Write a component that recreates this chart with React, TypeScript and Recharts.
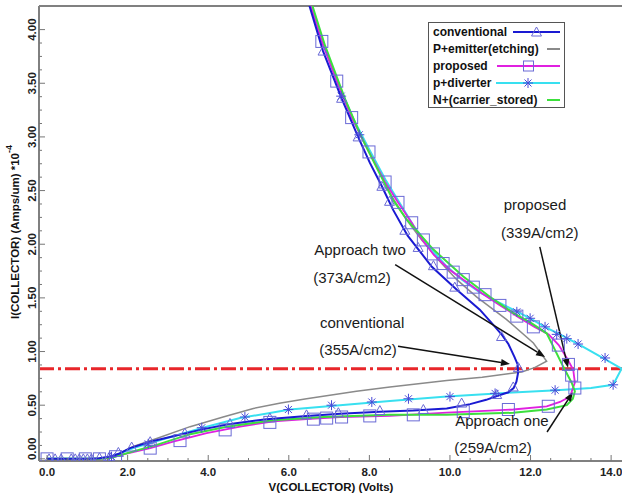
import React from "react";
import { ComposedChart, Line, Scatter, XAxis, YAxis, ReferenceLine, ReferenceDot } from "recharts";

type Pt = { v: number; i: number };
const pts = (a: number[][]): Pt[] => a.map(([v, i]) => ({ v, i }));

// each curve: from the origin along the blocking branch, around the snapback, then up the on-state branch
const conventional = pts([
  [0, 0], [1.0, 0], [1.3, 0.005], [1.6, 0.025], [1.8, 0.05], [2.06, 0.1], [2.56, 0.16], [3.13, 0.21],
  [3.8, 0.27], [4.46, 0.32], [5.45, 0.37], [6.44, 0.4], [7.27, 0.42], [8.26, 0.44], [9.09, 0.45],
  [9.92, 0.47], [10.5, 0.51], [10.9, 0.55], [11.2, 0.59], [11.45, 0.62], [11.58, 0.66], [11.65, 0.72],
  [11.69, 0.8], [11.68, 0.88], [11.6, 0.95], [11.45, 1.07], [11.3, 1.15], [11.12, 1.23], [10.74, 1.39],
  [10.17, 1.575], [9.55, 1.79], [8.95, 2.08], [8.59, 2.32], [8.31, 2.54], [8.01, 2.76], [7.72, 3.0],
  [7.31, 3.36], [6.85, 3.8], [6.45, 4.3],
]);

const pEmitter = pts([
  [0, 0], [1.2, 0], [1.48, 0.01], [1.8, 0.05], [2.14, 0.115], [2.72, 0.19], [3.55, 0.3], [4.37, 0.39],
  [5.12, 0.47], [5.8, 0.52], [6.44, 0.56], [7.68, 0.63], [8.51, 0.67], [9.92, 0.73], [10.8, 0.76],
  [11.78, 0.81], [12.1, 0.85], [12.4, 0.91], [12.07, 1.08], [11.4, 1.3], [10.66, 1.51], [10.17, 1.67],
  [9.75, 1.84], [9.3, 2.04], [8.9, 2.24], [8.55, 2.45], [8.1, 2.78], [7.6, 3.17], [7.2, 3.52],
  [6.84, 3.89], [6.48, 4.3],
]);

const proposed = pts([
  [0, 0], [1.2, 0], [1.48, 0.005], [2.0, 0.05], [2.56, 0.1], [3.13, 0.16], [3.96, 0.24], [4.79, 0.3],
  [5.62, 0.35], [6.44, 0.37], [7.27, 0.39], [8.51, 0.4], [9.92, 0.43], [11.0, 0.45], [11.57, 0.46],
  [12.4, 0.49], [12.73, 0.53], [12.98, 0.58], [13.1, 0.71], [13.06, 0.83], [12.9, 0.94], [12.7, 1.06],
  [12.45, 1.16], [12.1, 1.23], [11.7, 1.32], [11.2, 1.44], [10.8, 1.54], [10.4, 1.65], [10.0, 1.76],
  [9.6, 1.9], [9.3, 2.05], [9.05, 2.2], [8.71, 2.39], [8.39, 2.58], [7.99, 2.86], [7.56, 3.18],
  [7.19, 3.52], [6.82, 3.89], [6.48, 4.3],
]);

const diverter = pts([
  [0, 0], [1.3, 0], [1.6, 0.02], [2.14, 0.1], [3.13, 0.21], [3.96, 0.3], [4.79, 0.38], [6.03, 0.46],
  [7.27, 0.5], [8.51, 0.54], [9.92, 0.58], [11.16, 0.61], [12.65, 0.64], [13.5, 0.66], [14.05, 0.69],
  [14.26, 0.84], [13.89, 0.92], [13.23, 1.06], [12.73, 1.16], [12.4, 1.22], [11.99, 1.31], [11.57, 1.39],
  [11.2, 1.46], [10.74, 1.55], [10.3, 1.67], [9.9, 1.8], [9.5, 1.97], [9.1, 2.17], [8.76, 2.38],
  [8.4, 2.6], [8.0, 2.88], [7.6, 3.17], [7.2, 3.52], [6.84, 3.89], [6.5, 4.3],
]);

const carrierStored = pts([
  [0, 0], [1.3, 0], [1.6, 0.01], [2.14, 0.07], [2.72, 0.13], [3.55, 0.23], [4.46, 0.3], [5.62, 0.36],
  [6.86, 0.39], [8.51, 0.41], [9.92, 0.41], [11.57, 0.43], [12.4, 0.46], [12.9, 0.5], [13.05, 0.56],
  [13.1, 0.63], [13.02, 0.71], [12.77, 0.89], [12.56, 1.05], [12.4, 1.17], [12.0, 1.27], [11.57, 1.36],
  [10.99, 1.51], [10.33, 1.7], [9.59, 1.95], [8.93, 2.23], [8.59, 2.41], [8.2, 2.7], [7.8, 3.0],
  [7.4, 3.35], [6.9, 3.85], [6.52, 4.3],
]);

// marker positions (sparser than the curve samples)
const convMarks = pts([
  [0.05, 0], [0.2, 0], [0.35, 0], [0.6, 0], [0.7, 0], [0.8, 0], [0.9, 0], [1.0, 0], [1.1, 0], [1.3, 0.01],
  [1.55, 0.02], [1.77, 0.06], [2.1, 0.11], [2.56, 0.16], [3.42, 0.24], [4.54, 0.33], [5.53, 0.38],
  [6.44, 0.41], [7.23, 0.43], [8.26, 0.45], [9.34, 0.46], [10.29, 0.52], [11.16, 0.6], [11.57, 0.67],
  [11.7, 0.85], [11.28, 1.14], [10.12, 1.6], [9.59, 1.8], [9.21, 1.97], [8.88, 2.13], [8.5, 2.4],
  [8.31, 2.54], [7.72, 3.0], [7.31, 3.36], [6.85, 3.8],
]);

const propMarks = pts([
  [0.0, 0], [0.5, 0], [0.95, 0], [1.3, 0], [1.7, 0.02], [2.56, 0.1], [3.3, 0.17], [4.42, 0.27],
  [5.53, 0.34], [6.61, 0.37], [6.94, 0.38], [7.31, 0.39], [8.01, 0.4], [9.09, 0.41], [10.33, 0.44],
  [11.45, 0.46], [12.44, 0.49], [13.1, 0.66], [13.02, 0.78], [12.94, 0.88], [12.69, 1.06], [12.07, 1.23],
  [11.66, 1.33], [11.24, 1.43], [10.87, 1.53], [10.58, 1.6], [10.33, 1.67], [10.08, 1.74], [9.83, 1.82],
  [9.59, 1.91], [9.34, 2.04], [9.05, 2.2], [8.71, 2.39], [8.39, 2.58], [7.99, 2.86], [7.56, 3.18],
  [7.19, 3.52], [6.82, 3.89],
]);

const divMarks = pts([
  [1.6, 0.02], [2.51, 0.14], [3.84, 0.29], [4.91, 0.39], [5.99, 0.46], [7.06, 0.5], [8.06, 0.53],
  [8.97, 0.56], [10.0, 0.58], [11.12, 0.61], [12.61, 0.64], [14.05, 0.69], [13.85, 0.94], [13.18, 1.07],
  [12.9, 1.12], [12.65, 1.16], [12.36, 1.23], [11.99, 1.31], [11.66, 1.37], [7.75, 3.02], [7.3, 3.38],
]);

const xTicks = Array.from({ length: 29 }, (_, k) => k * 0.5);
const yTicks = Array.from({ length: 33 }, (_, k) => k * 0.125);
const xDomain = [-0.2, 14.27];
const yDomain = [-0.02, 4.22];
const threshold = 0.84;

const annotations = [
  { v: 12.11, i: 2.37, text: "proposed" },
  { v: 12.23, i: 2.11, text: "(339A/cm2)" },
  { v: 7.77, i: 1.95, text: "Approach two" },
  { v: 7.57, i: 1.69, text: "(373A/cm2)" },
  { v: 7.82, i: 1.27, text: "conventional" },
  { v: 7.72, i: 1.02, text: "(355A/cm2)" },
  { v: 11.29, i: 0.36, text: "Approach one" },
  { v: 11.07, i: 0.11, text: "(259A/cm2)" },
];

const arrows = [
  [{ x: 8.71, y: 1.05 }, { x: 11.49, y: 0.885 }],
  [{ x: 8.64, y: 1.81 }, { x: 12.36, y: 0.95 }],
  [{ x: 12.23, y: 1.975 }, { x: 12.93, y: 0.85 }],
  [{ x: 12.41, y: 0.25 }, { x: 13.05, y: 0.62 }],
];

const FONT = "'Liberation Sans', Arial, sans-serif";
const MARK = "#6a6ad6";

const legendItems = [
  { name: "conventional", color: "#1a1ad2", marker: "tri", w: 47 },
  { name: "P+emitter(etching)", color: "#8a8a8a", marker: "", w: 13 },
  { name: "proposed", color: "#e020e0", marker: "sq", w: 63 },
  { name: "p+diverter", color: "#38e0f0", marker: "star", w: 64 },
  { name: "N+(carrier_stored)", color: "#3ce03c", marker: "", w: 13 },
];

function Tri({ cx, cy }: any) {
  return <polygon points={`${cx},${cy - 5} ${cx - 5},${cy + 4} ${cx + 5},${cy + 4}`} fill="none" stroke={MARK} strokeWidth={1} />;
}
function Sq({ cx, cy }: any) {
  return <rect x={cx - 6} y={cy - 6} width={12} height={12} fill="none" stroke={MARK} strokeWidth={1} />;
}
function Star({ cx, cy }: any) {
  const r = 5;
  return (
    <g stroke="#4a4ad8" strokeWidth={1}>
      <line x1={cx - r} y1={cy} x2={cx + r} y2={cy} />
      <line x1={cx} y1={cy - r} x2={cx} y2={cy + r} />
      <line x1={cx - 3.5} y1={cy - 3.5} x2={cx + 3.5} y2={cy + 3.5} />
      <line x1={cx - 3.5} y1={cy + 3.5} x2={cx + 3.5} y2={cy - 3.5} />
    </g>
  );
}

function XTick({ x, y, payload }: any) {
  const v = payload.value;
  const major = Math.abs(v / 2 - Math.round(v / 2)) < 1e-6;
  return (
    <g>
      <line x1={x} y1={y} x2={x} y2={y - (major ? 6 : 3)} stroke="#777" />
      {major && (
        <text x={x} y={y + 15} textAnchor="middle" fontFamily={FONT} fontWeight="bold" fontSize={11.5} fill="#222">
          {v.toFixed(1)}
        </text>
      )}
    </g>
  );
}

function YTick({ x, y, payload }: any) {
  const v = payload.value;
  const major = Math.abs(v * 2 - Math.round(v * 2)) < 1e-6;
  // the bottom label is kept inside the axis span, as in the original
  const ly = v === 0 ? y - 10 : y;
  return (
    <g>
      <line x1={x} y1={y} x2={x + (major ? 6 : 3)} y2={y} stroke="#777" />
      {major && (
        <text x={x - 7} y={ly} transform={`rotate(-90, ${x - 7}, ${ly})`} textAnchor="middle" dominantBaseline="central"
          fontFamily={FONT} fontWeight="bold" fontSize={11.5} fill="#222">
          {v.toFixed(2)}
        </text>
      )}
    </g>
  );
}

function Arrow({ x1, y1, x2, y2 }: any) {
  const a = Math.atan2(y2 - y1, x2 - x1);
  const L = 9, W = 3.5;
  const bx = x2 - L * Math.cos(a), by = y2 - L * Math.sin(a);
  const p1 = `${bx - W * Math.sin(a)},${by + W * Math.cos(a)}`;
  const p2 = `${bx + W * Math.sin(a)},${by - W * Math.cos(a)}`;
  return (
    <g>
      <line x1={x1} y1={y1} x2={bx} y2={by} stroke="#111" strokeWidth={1.5} />
      <polygon points={`${x2},${y2} ${p1} ${p2}`} fill="#111" />
    </g>
  );
}

function Legend() {
  return (
    <div style={{ position: "absolute", left: 428, top: 22, width: 135, height: 84, border: "1px solid #555",
      background: "#fff", fontFamily: FONT, fontWeight: "bold", fontSize: 12, color: "#111" }}>
      {legendItems.map((it) => (
        <div key={it.name} style={{ height: 17, display: "flex", alignItems: "center", paddingLeft: 4, justifyContent: "space-between", paddingRight: 4 }}>
          <span>{it.name}</span>
          <svg width={it.w} height={12}>
            <line x1={0} y1={6} x2={it.w} y2={6} stroke={it.color} strokeWidth={2} />
            {it.marker === "tri" && <Tri cx={it.w / 2} cy={6} />}
            {it.marker === "sq" && <rect x={it.w / 2 - 5} y={1} width={10} height={10} fill="none" stroke={MARK} />}
            {it.marker === "star" && <Star cx={it.w / 2} cy={6} />}
          </svg>
        </div>
      ))}
    </div>
  );
}

export default function App() {
  return (
    <div style={{ position: "absolute", left: 0, top: 0, width: 622, height: 499, overflow: "hidden", background: "#fff" }}>
      <ComposedChart width={622} height={499} margin={{ top: 6, right: 0, bottom: 0, left: 0 }}>
        <XAxis type="number" dataKey="v" domain={xDomain} allowDataOverflow ticks={xTicks} interval={0}
          tick={<XTick />} tickSize={0} tickMargin={0} tickLine={false} height={38}
          axisLine={{ stroke: "#808080", strokeWidth: 2 }} />
        <YAxis type="number" dataKey="i" domain={yDomain} allowDataOverflow ticks={yTicks} interval={0}
          tick={<YTick />} tickSize={0} tickMargin={0} tickLine={false} width={39}
          axisLine={{ stroke: "#808080", strokeWidth: 2 }} />
        <ReferenceLine y={yDomain[1]} stroke="#808080" strokeWidth={2} />
        <ReferenceLine y={threshold} stroke="#e8262a" strokeWidth={3} strokeDasharray="15 4 3 4" />
        <Line data={pEmitter} dataKey="i" type="linear" stroke="#8a8a8a" strokeWidth={1.5} dot={false} activeDot={false} isAnimationActive={false} />
        <Line data={diverter} dataKey="i" type="linear" stroke="#38e0f0" strokeWidth={2} dot={false} activeDot={false} isAnimationActive={false} />
        <Line data={proposed} dataKey="i" type="linear" stroke="#e020e0" strokeWidth={1.8} dot={false} activeDot={false} isAnimationActive={false} />
        <Line data={carrierStored} dataKey="i" type="linear" stroke="#3ce03c" strokeWidth={2} dot={false} activeDot={false} isAnimationActive={false} />
        <Line data={conventional} dataKey="i" type="linear" stroke="#1a1ad2" strokeWidth={2} dot={false} activeDot={false} isAnimationActive={false} />
        <Scatter data={convMarks} dataKey="i" shape={<Tri />} isAnimationActive={false} />
        <Scatter data={propMarks} dataKey="i" shape={<Sq />} isAnimationActive={false} />
        <Scatter data={divMarks} dataKey="i" shape={<Star />} isAnimationActive={false} />
        {arrows.map((seg, k) => (
          <ReferenceLine key={k} segment={seg} shape={<Arrow />} />
        ))}
        {annotations.map((a) => (
          <ReferenceDot key={a.text} x={a.v} y={a.i} r={0}
            shape={(p: any) => (
              <text x={p.cx} y={p.cy} textAnchor="middle" dominantBaseline="central" fontFamily={FONT} fontSize={15} fill="#1a1a1a">
                {a.text}
              </text>
            )} />
        ))}
        <text x={331} y={487} textAnchor="middle" dominantBaseline="central" fontFamily={FONT} fontWeight="bold" fontSize={11.5} fill="#111">
          V(COLLECTOR) (Volts)
        </text>
        <text x={15} y={232} transform="rotate(-90, 15, 232)" textAnchor="middle" dominantBaseline="central"
          fontFamily={FONT} fontWeight="bold" fontSize={11.5} fill="#111">
          I(COLLECTOR) (Amps/um) *10<tspan dy={-6} fontSize={9}>-4</tspan>
        </text>
      </ComposedChart>
      <Legend />
    </div>
  );
}
